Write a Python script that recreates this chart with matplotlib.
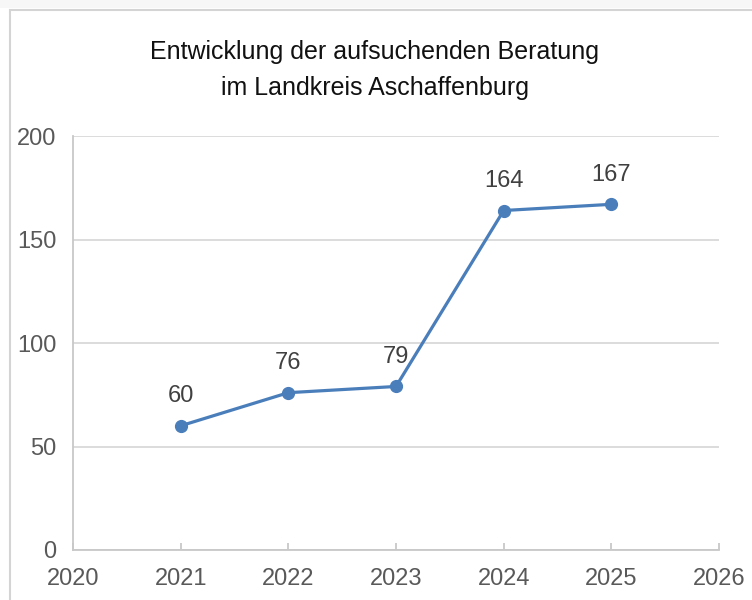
import matplotlib
matplotlib.use("Agg")
import matplotlib.pyplot as plt
from matplotlib.patches import Rectangle

years = [2021, 2022, 2023, 2024, 2025]
values = [60, 76, 79, 164, 167]
x_ticks = [2020, 2021, 2022, 2023, 2024, 2025, 2026]
y_ticks = [0, 50, 100, 150, 200]
title = "Entwicklung der aufsuchenden Beratung\nim Landkreis Aschaffenburg"

plt.rcParams['font.family'] = ['Liberation Sans', 'DejaVu Sans']

fig = plt.figure(figsize=(7.52, 6), dpi=100)
fig.patch.set_facecolor('white')

# light band at the very top and the chart frame
fig.patches.append(Rectangle((0, 1 - 8 / 600), 1, 8 / 600, transform=fig.transFigure,
                             facecolor='#f7f7f7', edgecolor='none', zorder=0))
fig.patches.append(Rectangle((9.5 / 752, -0.1), 1.2, 1 - 9.5 / 600 + 0.1, transform=fig.transFigure,
                             facecolor='none', edgecolor='#d4d4d4', linewidth=1.5, zorder=1))

ax = fig.add_axes([73 / 752, 50 / 600, (719 - 73) / 752, (550 - 136) / 600])
ax.set_facecolor('none')

ax.plot(years, values, color='#4a7ebb', linewidth=2.3, marker='o', markersize=8.5, zorder=3)
for x, v in zip(years, values):
    ax.annotate(str(v), (x, v), xytext=(0, 17), textcoords='offset points',
                ha='center', va='baseline', fontsize=17, color='#404040')

ax.set_xlim(2020, 2026)
ax.set_ylim(0, 200)
ax.set_xticks(x_ticks)
ax.set_yticks(y_ticks)
ax.yaxis.grid(True, color='#d9d9d9', linewidth=1.3)
ax.set_axisbelow(True)

for side in ['top', 'right']:
    ax.spines[side].set_visible(False)
for side in ['left', 'bottom']:
    ax.spines[side].set_color('#c8c8c8')
    ax.spines[side].set_linewidth(1.3)

ax.tick_params(axis='x', direction='in', length=5, width=1.3, color='#c8c8c8',
               labelsize=17, labelcolor='#595959', pad=13)
ax.tick_params(axis='y', length=0, labelsize=17, labelcolor='#595959', pad=12)

fig.text(375 / 752, 1 - 70 / 600, title, ha='center', va='center', fontsize=18,
         color='#111111', linespacing=1.6)

fig.savefig('out.png', dpi=100)
